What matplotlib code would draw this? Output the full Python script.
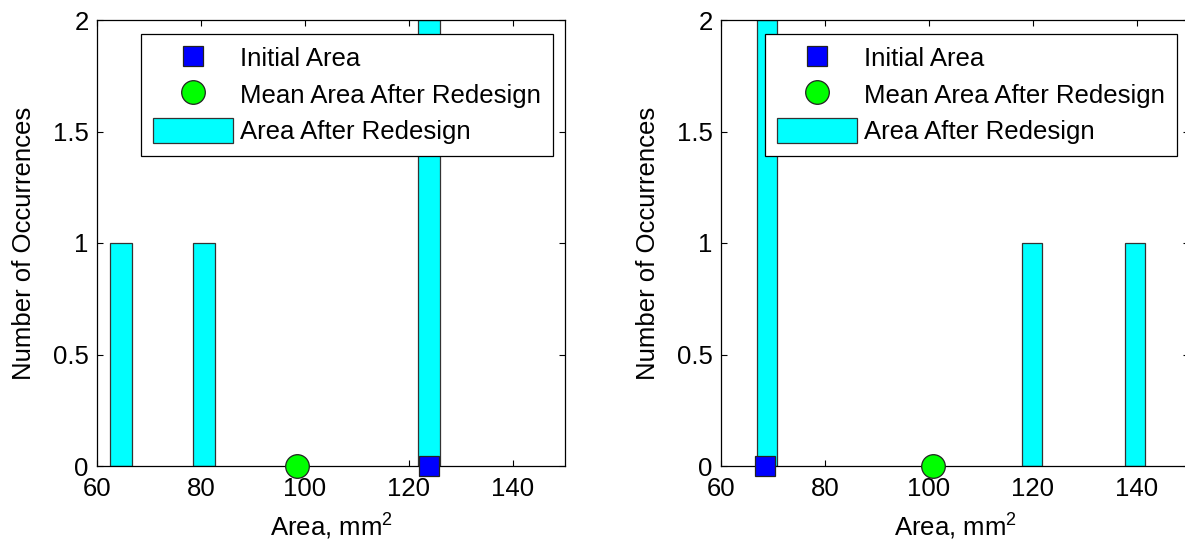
import matplotlib
matplotlib.use("Agg")
import matplotlib.pyplot as plt
from matplotlib.lines import Line2D
from matplotlib.patches import Patch

plt.rcParams['font.family'] = ['Liberation Sans', 'DejaVu Sans']
plt.rcParams['mathtext.fontset'] = 'custom'
plt.rcParams['mathtext.rm'] = 'Liberation Sans'
plt.rcParams['mathtext.it'] = 'Liberation Sans'

# Histogram of redesigned areas (bin centres and counts) for two cases
left_centers = [64.6, 80.5, 123.9]
left_counts = [1, 1, 2]
left_width = 4.2
left_initial = 123.8
left_mean = 98.4

right_centers = [68.8, 119.8, 139.6]
right_counts = [2, 1, 1]
right_width = 3.8
right_initial = 68.5
right_mean = 100.7

x_ticks = [60, 80, 100, 120, 140]
y_ticks = [0, 0.5, 1, 1.5, 2]
y_tick_labels = ['0', '0.5', '1', '1.5', '2']

FS = 18.5
W, H = 1185, 546
fig = plt.figure(figsize=(W / 100, H / 100), dpi=100)

ax_w = 468 / W
ax_h = 446 / H
ax_b = (546 - 466) / H
axes = [fig.add_axes([97 / W, ax_b, ax_w, ax_h]),
        fig.add_axes([721 / W, ax_b, ax_w, ax_h])]

panels = [(left_centers, left_counts, left_width, left_initial, left_mean),
          (right_centers, right_counts, right_width, right_initial, right_mean)]

for ax, (centers, counts, width, initial, mean) in zip(axes, panels):
    ax.bar(centers, counts, width=width, color=(0, 1, 1),
           edgecolor='#333333', linewidth=0.9, zorder=2)
    ax.plot([initial], [0], linestyle='none', marker='s', markersize=14.5,
            markerfacecolor=(0, 0, 1), markeredgecolor='#222222',
            markeredgewidth=0.9, zorder=4, clip_on=False)
    ax.plot([mean], [0], linestyle='none', marker='o', markersize=17,
            markerfacecolor=(0, 1, 0), markeredgecolor='#222222',
            markeredgewidth=0.9, zorder=4, clip_on=False)

    ax.set_xlim(60, 150)
    ax.set_ylim(0, 2)
    ax.set_xticks(x_ticks)
    ax.set_yticks(y_ticks)
    ax.set_yticklabels(y_tick_labels)
    ax.tick_params(direction='in', top=True, right=True, length=4,
                   width=0.8, labelsize=FS, colors='black')
    ax.tick_params(axis='x', pad=8)
    ax.tick_params(axis='y', pad=6)
    for s in ax.spines.values():
        s.set_linewidth(0.9)
        s.set_color('black')

    ax.set_xlabel(r'Area, mm$^{2}$', fontsize=FS, labelpad=8)
    ax.set_ylabel('Number of Occurrences', fontsize=FS, labelpad=12)

    handles = [
        Line2D([], [], linestyle='none', marker='s', markersize=14.5,
               markerfacecolor=(0, 0, 1), markeredgecolor='#222222',
               markeredgewidth=0.9),
        Line2D([], [], linestyle='none', marker='o', markersize=17,
               markerfacecolor=(0, 1, 0), markeredgecolor='#222222',
               markeredgewidth=0.9),
        Patch(facecolor=(0, 1, 1), edgecolor='#333333', linewidth=0.9),
    ]
    labels = ['Initial Area', 'Mean Area After Redesign', 'Area After Redesign']
    leg = ax.legend(handles, labels, loc='upper right',
                    bbox_to_anchor=(0.974, 0.969), fontsize=FS,
                    handlelength=3.1, handleheight=1.1, handletextpad=0.3,
                    labelspacing=0.4, borderpad=0.45, borderaxespad=0.0,
                    fancybox=False, framealpha=1, edgecolor='black',
                    numpoints=1)
    leg.get_frame().set_linewidth(0.9)
    leg.set_zorder(5)

fig.savefig('out.png', dpi=100)
